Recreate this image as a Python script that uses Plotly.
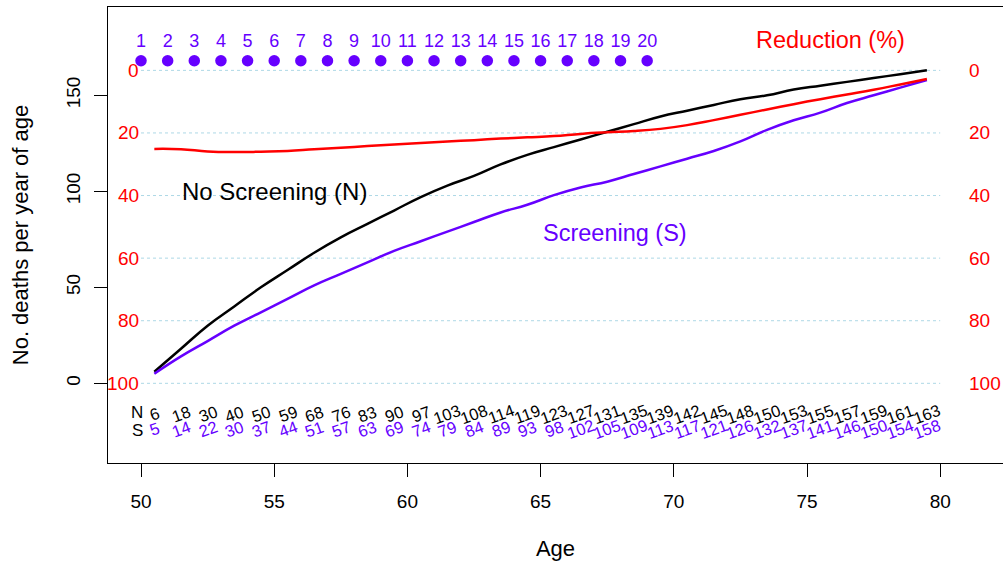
import plotly.graph_objects as go

# Ages at mid-year and cumulative deaths without / with screening
ages = [50.5 + i for i in range(30)]
deaths_no_screen = [6, 18, 30, 40, 50, 59, 68, 76, 83, 90, 97, 103, 108, 114, 119,
                    123, 127, 131, 135, 139, 142, 145, 148, 150, 153, 155, 157, 159, 161, 163]
deaths_screen = [5, 14, 22, 30, 37, 44, 51, 57, 63, 69, 74, 79, 84, 89, 93,
                 98, 102, 105, 109, 113, 117, 121, 126, 132, 137, 141, 146, 150, 154, 158]
# Percentage reduction in deaths due to screening
reduction_pct = [25.1, 25.2, 25.9, 26.1, 26.0, 25.8, 25.2, 24.7, 24.2, 23.7,
                 23.2, 22.7, 22.3, 21.8, 21.4, 21.0, 20.3, 19.8, 19.4, 18.7,
                 17.5, 15.9, 14.2, 12.5, 10.8, 9.2, 7.7, 6.2, 4.5, 2.75]

# Screening rounds (one per year of age from 50)
rounds = list(range(1, 21))
round_ages = [50 + r - 1 for r in rounds]

reduction_ticks = [0, 20, 40, 60, 80, 100]
x_ticks = [50, 55, 60, 65, 70, 75, 80]
y_ticks = [0, 50, 100, 150]

PURPLE = "#6600FF"
RED = "#FF0000"
FONT = "Liberation Sans, Arial, sans-serif"

N_MAX = max(deaths_no_screen)
y_lo, y_hi = -41.5, 196.0
# secondary axis: reduction 0% sits at N_MAX deaths, 100% at zero deaths
r_lo = 100 * (1 - y_lo / N_MAX)
r_hi = 100 * (1 - y_hi / N_MAX)

curve = dict(width=2.5, shape="spline", smoothing=1.3)

fig = go.Figure()
fig.add_trace(go.Scatter(x=ages, y=deaths_no_screen, mode="lines",
                         line=dict(color="black", **curve)))
fig.add_trace(go.Scatter(x=ages, y=deaths_screen, mode="lines",
                         line=dict(color=PURPLE, **curve)))
fig.add_trace(go.Scatter(x=ages, y=reduction_pct, mode="lines", yaxis="y2",
                         line=dict(color=RED, **curve)))

# screening round markers and their numbers
fig.add_trace(go.Scatter(x=round_ages, y=[168] * len(rounds), mode="markers",
                         marker=dict(color=PURPLE, size=11.5)))
fig.add_trace(go.Scatter(x=round_ages, y=[177.3] * len(rounds), mode="text",
                         text=[str(r) for r in rounds],
                         textfont=dict(color=PURPLE, size=18, family=FONT)))

shapes = []
annotations = []
for r in reduction_ticks:
    shapes.append(dict(type="line", xref="x", yref="y2", x0=50, x1=80, y0=r, y1=r,
                       line=dict(color="#ADD8E6", width=1, dash="dot"), layer="below"))
    annotations.append(dict(x=50, y=r, xref="x", yref="y2", text=str(r), showarrow=False,
                            xanchor="right", yanchor="middle",
                            font=dict(color=RED, size=19, family=FONT)))
    annotations.append(dict(x=81, y=r, xref="x", yref="y2", text=str(r), showarrow=False,
                            xanchor="left", yanchor="middle",
                            font=dict(color=RED, size=19, family=FONT)))

# numbers at risk rows
annotations.append(dict(x=49.85, y=-15.3, xref="x", yref="y", text="N", showarrow=False,
                        font=dict(color="black", size=17, family=FONT)))
annotations.append(dict(x=49.85, y=-24.5, xref="x", yref="y", text="S", showarrow=False,
                        font=dict(color="black", size=17, family=FONT)))
for a, n, s in zip(ages, deaths_no_screen, deaths_screen):
    annotations.append(dict(x=a, y=-16, xref="x", yref="y", text=str(n), showarrow=False,
                            textangle=-20, font=dict(color="black", size=16.5, family=FONT)))
    annotations.append(dict(x=a, y=-23.8, xref="x", yref="y", text=str(s), showarrow=False,
                            textangle=-20, font=dict(color=PURPLE, size=16.5, family=FONT)))

annotations.append(dict(x=55.0, y=100, xref="x", yref="y", text="No Screening (N)",
                        showarrow=False, font=dict(color="black", size=24, family=FONT)))
annotations.append(dict(x=67.8, y=78.3, xref="x", yref="y", text="Screening (S)",
                        showarrow=False, font=dict(color=PURPLE, size=23.5, family=FONT)))
annotations.append(dict(x=75.9, y=178.8, xref="x", yref="y", text="Reduction (%)",
                        showarrow=False, font=dict(color=RED, size=23.5, family=FONT)))

fig.update_layout(
    width=1003, height=566,
    margin=dict(l=108, r=0, t=7, b=103),
    paper_bgcolor="white", plot_bgcolor="white",
    showlegend=False,
    font=dict(family=FONT, color="black"),
    shapes=shapes, annotations=annotations,
    xaxis=dict(range=[48.761, 82.357], tickvals=x_ticks, ticks="outside", ticklen=13,
               tickwidth=1, tickcolor="black", showgrid=False, zeroline=False,
               showline=True, linecolor="black", linewidth=1.3, mirror=True,
               tickfont=dict(size=19), ticklabelstandoff=8,
               title=dict(text="Age", font=dict(size=22), standoff=29)),
    yaxis=dict(range=[y_lo, y_hi], tickvals=y_ticks, ticks="outside", ticklen=13,
               tickwidth=1, tickcolor="black", showgrid=False, zeroline=False,
               showline=True, linecolor="black", linewidth=1.3, mirror=False,
               tickangle=-90, tickfont=dict(size=19), ticklabelstandoff=6,
               title=dict(text="No. deaths per year of age", font=dict(size=22), standoff=28)),
    yaxis2=dict(range=[r_lo, r_hi], overlaying="y", side="right", visible=False,
                showgrid=False, zeroline=False),
)

fig.write_html("out.html")
